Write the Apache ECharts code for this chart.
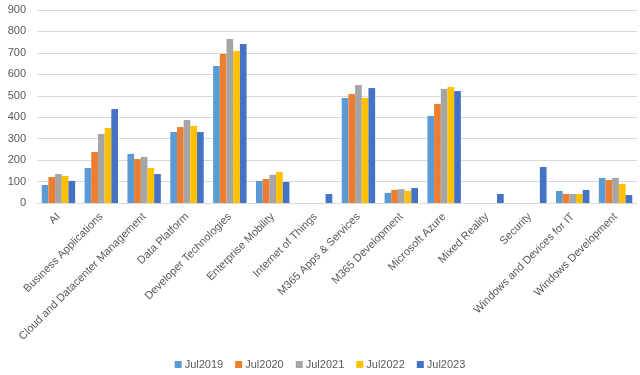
<!DOCTYPE html>
<html><head><meta charset="utf-8">
<script src="https://cdn.jsdelivr.net/npm/echarts@6/dist/echarts.min.js"></script>
<style>html,body{margin:0;padding:0;background:#fff}#c{width:640px;height:375px}</style>
</head><body><div id="c"></div>
<script>
const categories = ["AI","Business Applications","Cloud and Datacenter Management","Data Platform","Developer Technologies","Enterprise Mobility","Internet of Things","M365 Apps & Services","M365 Development","Microsoft Azure","Mixed Reality","Security","Windows and Devices for IT","Windows Development"];
const seriesNames = ["Jul2019","Jul2020","Jul2021","Jul2022","Jul2023"];
const jul2019 = [84,163,229,331,639,103,null,490,47,406,null,null,56,117];
const jul2020 = [121,238,205,354,695,112,null,508,61,462,null,null,42,107];
const jul2021 = [135,322,215,387,765,131,null,550,65,532,null,null,42,117];
const jul2022 = [126,350,163,359,709,145,null,490,56,541,null,null,42,89];
const jul2023 = [103,438,135,331,742,98,42,536,70,522,42,168,61,37];
const yTicks = {min:0,max:900,interval:100};
const colors = ["#5B9BD5","#ED7D31","#A5A5A5","#FFC000","#4472C4"];
const allData = [jul2019,jul2020,jul2021,jul2022,jul2023];
const font = "Liberation Sans";
const chart = echarts.init(document.getElementById('c'));
chart.setOption({
  animation:false,
  color:colors,
  grid:{left:37,right:3,top:10,bottom:172},
  legend:{bottom:0,left:'center',itemWidth:7,itemHeight:7,itemGap:12,icon:'rect',
    textStyle:{color:'#595959',fontSize:11,fontFamily:font,padding:[0,0,0,-2]},data:seriesNames},
  xAxis:{type:'category',data:categories,
    axisLine:{lineStyle:{color:'#D9D9D9'}},axisTick:{show:false},
    axisLabel:{rotate:45,interval:0,color:'#595959',fontSize:11,fontFamily:font,margin:12}},
  yAxis:{type:'value',min:yTicks.min,max:yTicks.max,interval:yTicks.interval,
    axisLine:{show:false},axisTick:{show:false},
    splitLine:{lineStyle:{color:'#D9D9D9'}},
    axisLabel:{color:'#595959',fontSize:11,fontFamily:font,margin:11}},
  series:seriesNames.map((n,i)=>({name:n,type:'bar',data:allData[i],barGap:'0%',barCategoryGap:'22%'}))
});
</script></body></html>
